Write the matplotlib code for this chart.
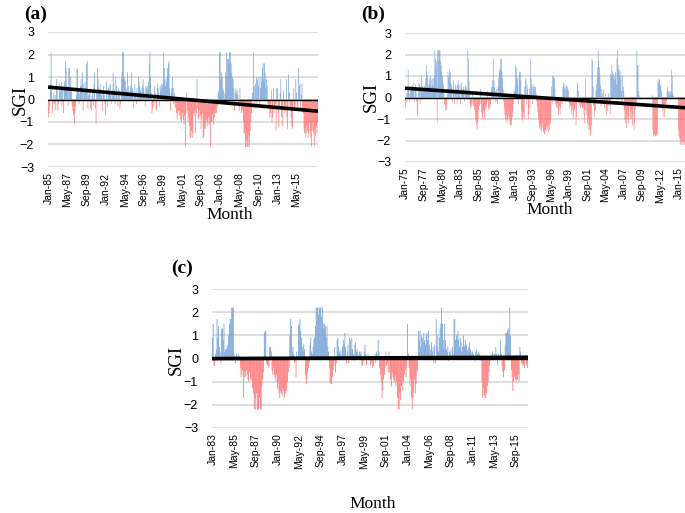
import numpy as np
import matplotlib.pyplot as plt

# monthly SGI values, one row per year
# (a) Jan-1985 .. Dec-2017
sgi_a = [
    -0.8, -0.6, -0.3, 0.7, 2.1, 0.4, -0.6, -0.2, 0.3, -0.2, 0.2, -0.5,
    0.9, 0.4, -0.5, -0.2, 0.7, 0.3, 0.5, 0.8, -0.3, 0.4, -0.6, 0.5,
    0.8, 1.7, 1.4, 0.6, 0.5, -0.3, 1.4, 1.4, 0.3, 1.0, 0.4, -0.3,
    -0.5, -0.7, -1.1, -0.6, -0.3, 0.2, 1.4, 1.3, 0.5, -0.2, 0.3, 0.6,
    0.9, 0.6, 1.2, -0.5, 0.7, 0.3, 0.8, 0.5, 1.6, 1.7, -0.4, 0.2,
    0.5, 0.3, -0.4, -0.5, 0.2, 0.4, -0.3, 0.7, 1.2, -0.4, -1.1, 0.3,
    1.4, 0.9, 0.5, 0.3, 0.7, 0.3, 0.2, -0.5, 0.4, 0.6, 0.2, -0.2,
    -0.7, 0.8, 0.3, -0.3, 0.5, 0.6, 0.4, 0.7, 0.3, -0.2, 0.4, 1.2,
    0.7, 0.4, -0.2, 1.0, 0.6, 0.3, -0.3, 0.5, 0.4, -0.4, -0.2, 0.9,
    1.2, 2.1, 2.1, 1.0, 0.9, 0.8, 0.5, 0.4, 1.2, 0.3, 0.6, 0.2,
    0.4, 0.6, 1.2, 0.5, 0.4, -0.4, 0.3, 0.7, 0.3, -0.2, 0.5, 0.2,
    1.0, 0.8, 0.6, 0.4, 0.5, 0.3, 0.6, 0.9, 0.5, 0.2, -0.3, 0.6,
    0.5, 0.6, 0.4, 0.8, 1.6, 2.1, 1.0, 0.3, -0.6, -0.4, 0.2, -0.3,
    0.6, 0.3, -0.4, -0.5, 0.7, 0.5, 0.3, -0.3, 0.6, 0.4, 0.7, 0.5,
    0.7, 2.1, 1.4, 0.9, 0.6, 0.8, 1.0, 1.4, 1.6, 1.7, 0.5, -0.5,
    0.3, 0.5, 1.0, 0.5, -0.2, 0.3, -0.4, -0.3, -0.6, -0.9, -0.7, -0.5,
    -0.5, -0.7, -0.9, -1.0, -0.8, -0.6, -0.9, -1.1, -0.7, -2.1, -0.6, 0.3,
    -0.5, -1.0, -0.8, -1.2, -1.7, -1.7, -1.4, -1.7, -1.5, -0.6, -0.7, -0.5,
    -1.5, -0.6, 0.9, -0.4, -0.9, -0.8, -0.5, -0.7, -1.3, -0.9, -0.6, -1.7,
    -1.7, -1.3, -1.1, -1.3, -0.9, -1.0, -1.2, -0.8, -1.1, -0.9, -2.1, -1.0,
    -1.0, -0.7, -1.1, -0.6, -0.8, -0.6, -0.4, -0.6, -0.3, 0.4, 0.3, 2.1,
    2.1, 0.9, 1.2, 1.0, 0.5, 0.4, -0.2, 0.3, 1.2, 2.1, 1.0, 1.8,
    1.8, 1.6, 2.1, 2.1, 1.6, 1.2, 1.0, 0.9, 0.5, -0.5, 0.3, 0.5,
    0.3, 0.4, 0.2, -0.3, -0.5, 0.5, -0.2, -0.6, -0.4, -0.5, -1.0, -1.5,
    -1.5, -2.1, -2.1, -1.8, -2.1, -2.1, -1.6, -2.1, -1.4, -1.0, -0.6, 0.3,
    0.3, 2.1, 0.6, -0.4, 0.7, 1.0, -0.2, 0.9, 0.6, 1.0, -0.3, 0.5,
    1.0, 0.8, 1.4, 1.6, 0.9, 1.6, 1.2, 0.5, 0.9, 0.6, -0.2, -0.3,
    -0.4, -0.8, -0.6, 0.4, -1.0, -0.8, 0.5, -0.6, -0.4, -0.2, -1.4, 0.5,
    0.5, -0.6, -1.2, -0.4, 0.3, 0.9, -0.8, -1.2, -0.5, 0.4, -0.3, -0.6,
    -0.5, 0.9, -0.8, -1.3, 1.1, -0.4, 0.3, -0.5, -0.8, -1.2, -1.3, -0.3,
    0.5, -0.4, -0.3, 0.9, 0.3, -0.3, -0.4, 1.4, 0.6, 0.7, -0.5, 0.2,
    0.7, -0.5, -0.6, -1.3, -1.5, -1.7, -1.5, -1.2, -1.4, -1.7, -1.5, -1.0,
    -1.4, -1.7, -2.1, -1.4, -1.0, -1.5, -2.1, -1.3, -1.6, -1.2, -1.5, -1.0,
]

# (b) Jan-1975 .. Dec-2015
sgi_b = [
    -0.5, -0.3, 0.2, -0.2, 0.3, 1.3, 0.4, 0.2, -0.2, 0.3, 0.5, 0.4,
    0.6, 0.5, 0.3, 0.7, -0.2, 0.4, 0.6, 0.3, -0.2, -0.8, -0.9, 0.3,
    0.7, 0.6, -0.3, 0.5, 1.0, 0.8, 0.5, 0.4, 0.3, 0.6, 0.5, 0.3,
    0.9, 1.5, 1.1, 1.0, 0.6, 0.5, 0.9, 0.6, 1.0, 0.8, 0.5, 0.9,
    0.6, 0.9, 0.5, 1.0, 2.2, 1.8, 1.5, 1.7, -1.2, 2.2, 2.2, 1.7,
    2.2, 2.2, 1.7, 1.5, 1.2, 1.0, 0.8, 0.6, 0.3, -0.3, -0.4, -0.6,
    -0.3, -0.6, 0.4, 1.2, 1.0, 0.9, 1.3, 1.2, 0.7, 0.6, 0.4, -0.2,
    0.5, 0.8, 0.2, -0.3, 0.6, 0.5, 0.4, -0.3, 0.6, 0.8, 0.5, 0.3,
    0.6, -0.3, 0.5, 0.7, 0.4, 0.3, 0.5, 0.4, -0.2, 0.5, 0.6, 0.3,
    0.5, 0.3, 2.2, 1.8, 0.8, 0.4, -0.3, -0.5, -0.4, -0.3, 0.2, -0.4,
    -0.3, -0.4, -0.6, -0.8, -1.1, -1.3, -1.5, -1.2, -1.0, -0.6, -0.4, -0.3,
    0.4, -0.3, -0.7, -0.9, -1.0, -0.6, -0.7, -1.0, -0.6, -0.4, -0.5, -0.3,
    0.3, -0.2, -0.5, -0.6, -0.4, -0.5, -0.3, 0.4, 0.5, 0.8, 0.5, 1.8,
    0.8, 0.5, -0.2, 0.3, 0.4, -0.2, -0.3, 0.5, 0.9, 1.3, 1.2, 1.8,
    1.3, 1.8, 1.2, 0.9, 0.4, -0.2, -0.5, -0.8, -1.0, -1.2, -0.8, -1.0,
    -1.1, -0.9, -0.7, -1.0, -1.2, -1.3, -1.1, -1.3, -0.9, -0.6, -0.3, 0.3,
    0.3, 0.5, 1.5, 1.4, 1.0, 0.9, 0.6, -0.3, 1.0, 1.2, 1.2, 0.8,
    -0.6, -1.0, -1.1, -0.9, -0.7, -1.0, 0.5, 0.8, 0.9, -0.3, 0.6, 0.4,
    -1.0, -0.8, 0.4, -0.5, 1.8, 0.9, 0.6, 0.5, -0.3, 0.4, 0.6, 0.5,
    0.3, 0.5, 0.2, -0.2, -0.4, -0.7, -1.0, -1.2, -1.4, -1.5, -1.3, -1.6,
    -1.4, -1.2, -1.5, -1.6, -1.7, -1.7, -1.5, -1.6, -1.4, -1.3, -1.5, -1.2,
    -1.6, -1.5, -1.3, -1.2, -1.0, 0.5, -0.3, 1.0, 0.9, 1.0, 0.9, 0.4,
    -0.3, -0.5, -0.4, -0.3, -0.5, -0.8, -0.6, -0.4, -0.8, -0.5, -0.3, -0.2,
    -0.3, 0.5, 0.7, 0.6, 0.4, -0.2, 0.5, 0.6, 0.3, 0.5, 0.4, 0.3,
    -0.3, -0.5, -0.4, -0.3, -0.8, -0.6, -0.4, -1.0, -0.8, -0.6, -0.5, -0.3,
    -1.3, -0.9, 0.6, 0.7, 0.3, -0.3, -0.2, -0.4, -0.5, -0.4, -0.3, -0.5,
    -0.5, -0.4, -0.8, -1.2, -0.6, 0.9, -0.3, -0.8, -1.2, -1.5, -1.0, -1.3,
    -1.5, -1.8, -1.7, -1.3, 1.8, 1.7, 0.5, -0.4, -0.6, -0.9, -0.6, 0.3,
    0.6, 0.9, 1.4, 2.2, 1.7, 1.4, 1.0, 0.6, -0.4, 0.4, -0.3, 0.2,
    0.4, -0.3, -0.5, -0.3, 0.2, -0.5, -0.8, -0.6, -0.3, 0.2, -0.4, -0.2,
    -0.8, 1.1, 1.0, 1.5, 1.2, 0.9, 1.1, 1.0, 0.8, 1.2, 0.9, 0.6,
    1.8, 2.2, 1.5, 1.3, 1.0, 1.3, 0.9, 1.2, 0.3, -0.3, 1.0, 0.5,
    0.3, -0.6, -1.0, -1.2, -0.8, -1.4, -1.0, -0.6, -1.2, -0.9, -0.4, -0.6,
    -1.0, -0.6, -1.0, -1.3, -0.8, -0.4, -1.5, -1.2, -0.6, -0.4, -0.2, 2.2,
    1.5, 1.5, 0.3, 0.1, 0.0, -0.1, 0.0, 0.0, 0.0, 0.0, 0.0, 0.0,
    0.0, 0.0, 0.0, 0.0, 0.0, 0.0, 0.0, 0.0, 0.0, 0.0, 0.0, 0.0,
    0.0, 0.0, 0.1, -1.5, -1.8, -1.8, -1.7, -1.8, -1.8, -1.7, -1.8, -1.7,
    0.8, 0.7, 0.9, 0.8, 0.5, 0.6, 0.3, -0.3, -0.6, -0.9, -0.5, -0.3,
    -0.9, -0.5, -0.3, -0.2, 0.3, 0.5, 0.2, 0.3, 0.1, 0.3, 0.2, 0.3,
    1.3, 1.0, 0.2, 0.1, 0.0, 0.0, 0.0, 0.0, 0.0, 0.0, 0.0, -0.1,
    -1.5, -1.8, -1.9, -2.2, -2.0, -2.2, -1.9, -2.0, -2.2, -2.1, -1.9, -2.2,
]

# (c) Jan-1983 .. Dec-2016
sgi_c = [
    0.9, 1.5, -0.3, -0.3, 0.2, 0.4, 1.7, 0.9, 1.4, 0.5, 0.3, -0.2,
    1.3, 1.3, 0.8, 1.5, 0.3, 0.4, 0.4, 0.6, 0.5, 1.0, 1.5, 1.7,
    1.7, 2.2, 2.2, 2.2, 0.2, 0.1, -0.2, 0.2, 0.1, -0.1, 0.2, 0.1,
    -0.4, -0.8, -0.7, -0.5, -1.7, -0.8, -0.6, -0.8, -0.5, -0.7, -0.9, -1.0,
    -0.6, -0.9, -0.8, -1.0, -1.3, -1.5, -2.2, -1.7, -2.2, -1.5, -2.2, -2.2,
    -2.2, -1.7, -2.2, -2.2, -1.2, -0.9, -0.6, 1.1, 1.2, 1.2, -0.2, -0.3,
    -0.3, -0.4, 0.5, 0.5, 0.3, -0.5, -0.7, -0.4, -0.7, -0.8, -1.0, -0.7,
    -1.3, -1.0, -1.5, -1.7, -1.4, -1.5, -1.6, -1.3, -1.4, -1.7, -1.5, -1.4,
    -1.4, -1.0, -0.6, -0.4, 1.0, 1.7, 1.4, 0.3, 0.5, 0.2, -0.2, -0.1,
    -0.8, 0.3, 0.1, 1.4, 1.5, 1.7, 1.2, 0.9, 0.5, 0.3, 0.6, 0.4,
    -0.7, -1.1, -0.9, -0.6, -0.4, -0.2, 0.6, 0.9, 0.3, 0.2, 0.5, 0.8,
    0.9, 1.4, 2.2, 2.2, 2.2, 1.9, 2.2, 2.2, 2.2, 1.8, 2.2, 1.5,
    1.3, 1.5, 1.4, 0.9, 1.4, 0.5, 0.3, -0.4, -1.0, -1.1, -1.1, -0.8,
    -0.5, -0.3, 0.5, -0.6, -0.2, 0.8, 0.9, 0.5, 0.3, 0.2, 0.4, 0.1,
    0.5, 0.8, 0.6, 1.1, 0.5, -0.2, 0.3, 0.6, -0.2, 0.9, 0.8, 0.4,
    0.9, 0.4, 0.2, -0.1, 0.6, 0.7, 0.3, 0.4, 0.2, 0.1, 0.3, 0.2,
    0.3, -0.3, -0.3, -0.1, 0.3, 0.6, 0.2, -0.3, 0.1, 0.2, 0.1, 0.1,
    -0.3, -0.2, 0.1, -0.4, -0.3, 0.1, 0.2, -0.2, 0.3, 0.2, 0.8, 0.3,
    -0.4, -0.7, -1.0, -1.7, -1.4, -0.9, -0.7, -0.4, 0.3, -0.3, -0.2, -0.6,
    0.3, -0.6, -0.9, -1.2, -0.8, -0.6, -0.9, -1.0, -0.7, -1.2, -1.0, -1.7,
    -2.2, -2.2, -1.5, -1.8, -1.2, -0.9, -1.4, -1.0, -0.7, -0.5, -0.8, -0.4,
    1.5, 0.2, -0.4, -1.2, -0.9, -1.7, -2.2, -1.7, -1.5, -0.9, -1.5, -1.1,
    -0.6, -0.5, 1.2, 0.8, 1.2, 0.5, 1.0, 0.9, 0.7, 1.1, 0.8, 0.6,
    1.0, 1.1, 0.8, 1.2, 0.6, 0.2, 0.4, 0.7, 0.3, 0.5, -0.2, 0.6,
    -0.2, 1.7, 0.5, 1.0, 0.3, 0.9, 1.3, 1.5, 2.2, 1.5, 0.8, 0.4,
    1.5, 0.8, 0.4, 0.3, 0.5, -0.1, 0.3, 0.2, 0.4, 0.1, 0.5, 0.2,
    1.7, 1.7, 0.8, 1.0, 0.9, 1.2, 0.8, 0.5, 0.9, 0.7, 0.3, 0.5,
    1.0, 0.6, 0.5, 0.8, 0.6, 0.4, 0.3, 0.5, 0.7, 0.4, 0.3, 0.2,
    0.3, 0.2, 0.1, -0.1, 0.3, 0.4, 0.2, 0.1, 0.3, 0.2, 0.1, -0.1,
    -1.0, -1.7, -1.3, -1.6, -1.7, -1.7, -1.5, -1.2, -1.0, -0.6, -0.3, -0.1,
    0.1, 0.2, 0.3, -0.1, 0.2, 0.1, 0.5, 0.2, -0.3, 0.1, 0.2, 0.1,
    0.8, 0.2, -0.3, -0.6, -0.8, -0.5, 0.6, 1.1, 1.1, 1.2, 1.3, 1.0,
    2.2, 1.0, -0.5, -0.8, -1.4, -1.0, -0.8, -0.9, -0.9, -1.0, -0.9, -0.7,
    -1.0, 0.5, 0.3, -0.2, -0.3, -0.2, -0.3, -0.4, 0.1, -0.2, -0.3, -0.4,
]

labels_a = ['Jan-85', 'May-87', 'Sep-89', 'Jan-92', 'May-94', 'Sep-96', 'Jan-99',
            'May-01', 'Sep-03', 'Jan-06', 'May-08', 'Sep-10', 'Jan-13', 'May-15']
labels_b = ['Jan-75', 'Sep-77', 'May-80', 'Jan-83', 'Sep-85', 'May-88', 'Jan-91', 'Sep-93',
            'May-96', 'Jan-99', 'Sep-01', 'May-04', 'Jan-07', 'Sep-09', 'May-12', 'Jan-15']
labels_c = ['Jan-83', 'May-85', 'Sep-87', 'Jan-90', 'May-92', 'Sep-94', 'Jan-97', 'May-99',
            'Sep-01', 'Jan-04', 'May-06', 'Sep-08', 'Jan-11', 'May-13', 'Sep-15']

BLUE = '#6b9bd3'
RED = '#ff6e6e'
W, H = 685, 513


def draw_panel(rect, values, labels, step, letter, letter_xy, sgi_xy, month_xy):
    # rect in pixels: left, top, right, bottom
    l, t, r, b = rect
    ax = fig.add_axes([l / W, 1 - b / H, (r - l) / W, (b - t) / H])
    vals = np.array(values)
    x = np.arange(len(vals))
    cols = np.where(vals >= 0, BLUE, RED)
    ax.bar(x, vals, width=0.95, color=cols, linewidth=0, snap=False)
    ax.set_xlim(-0.5, len(vals) - 0.5)
    ax.set_ylim(-3, 3)
    ax.set_yticks(range(-3, 4))
    ax.yaxis.grid(True, color='#d9d9d9', linewidth=1.2)
    ax.set_axisbelow(True)
    ax.axhline(0, color='black', linewidth=1.0, zorder=3)
    # linear trend
    k, c0 = np.polyfit(x, vals, 1)
    xx = np.array([-0.5, len(vals) - 0.5])
    ax.plot(xx, k * xx + c0, color='black', linewidth=2.6, zorder=4,
            solid_capstyle='butt')
    ax.set_xticks(np.arange(len(labels)) * step)
    ax.set_xticklabels(labels, rotation=90, fontsize=7.5, family='Liberation Sans')
    for lab in ax.get_yticklabels():
        lab.set_fontsize(9)
        lab.set_family('Liberation Sans')
    ax.tick_params(length=0, pad=4)
    ax.tick_params(axis='y', pad=10)
    for s in ax.spines.values():
        s.set_visible(False)
    fig.text(letter_xy[0] / W, 1 - letter_xy[1] / H, letter, fontsize=14,
             fontweight='bold', family='Liberation Serif', ha='left', va='center')
    fig.text(sgi_xy[0] / W, 1 - sgi_xy[1] / H, 'SGI', fontsize=13.5, rotation=90,
             family='Liberation Serif', ha='center', va='center')
    fig.text(month_xy[0] / W, 1 - month_xy[1] / H, 'Month', fontsize=12.5,
             family='Liberation Serif', ha='center', va='center')
    return ax


fig = plt.figure(figsize=(6.85, 5.13), dpi=100)
draw_panel((48, 32, 318, 167), sgi_a, labels_a, 28, '(a)', (24, 14), (20, 100), (230, 215))
draw_panel((405, 33, 685, 162), sgi_b, labels_b, 32, '(b)', (361, 14), (371, 97), (550, 210))
draw_panel((212, 289, 528, 428), sgi_c, labels_c, 28, '(c)', (171, 268), (176, 360), (373, 504))
fig.savefig('out.png', dpi=100)
